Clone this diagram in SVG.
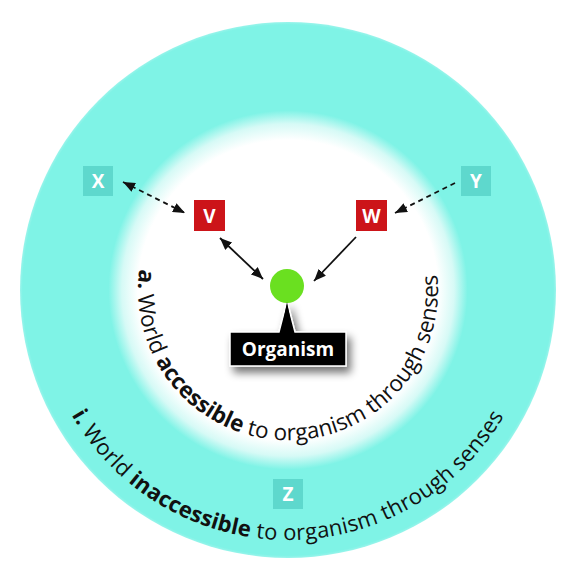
<svg xmlns="http://www.w3.org/2000/svg" width="580" height="570" viewBox="0 0 580 570">
<defs>
<radialGradient id="ring" cx="288" cy="290" r="268" gradientUnits="userSpaceOnUse">
<stop offset="0" stop-color="#ffffff"/>
<stop offset="0.56" stop-color="#ffffff"/>
<stop offset="0.62" stop-color="#d6faf6"/>
<stop offset="0.67" stop-color="#7ff3e6"/>
<stop offset="0.99" stop-color="#7ff3e6"/>
<stop offset="1" stop-color="#9af4eb"/>
</radialGradient>
<marker id="ah" viewBox="0 0 12 10" refX="12" refY="5" markerWidth="12" markerHeight="10" markerUnits="userSpaceOnUse" orient="auto-start-reverse">
<path d="M0,0 L12,5 L0,10 Z" fill="#111"/>
</marker>
<filter id="sh" x="-30%" y="-30%" width="170%" height="190%">
<feGaussianBlur in="SourceAlpha" stdDeviation="4"/>
<feOffset dx="4" dy="6" result="b"/>
<feComponentTransfer><feFuncA type="linear" slope="0.55"/></feComponentTransfer>
<feMerge><feMergeNode/><feMergeNode in="SourceGraphic"/></feMerge>
</filter>
<path id="innerArc" d="M139.5,269.1 A150,150 0 1 0 436.5,269.1"/>
<path id="outerArc" d="M71.5,415 A250,250 0 0 0 504.5,415"/>
</defs>
<style>
.tbox{fill:#5ed8cd}
.rbox{fill:#cc1419}
.lbl{font-family:"Open Sans","Noto Sans",sans-serif;font-weight:bold;font-size:19px;fill:#ffffff;text-anchor:middle}
.arc{font-family:"Open Sans","Noto Sans",sans-serif;fill:#111}
.b{font-weight:bold}
.ln{stroke:#111;stroke-width:1.8;fill:none}
.dash{stroke-dasharray:5,4}
</style>
<rect width="580" height="570" fill="#ffffff"/>
<g id="world">
<circle cx="288" cy="290" r="268" fill="url(#ring)"/>
</g>
<g id="inner-label">
<text class="arc" font-size="22.5"><textPath href="#innerArc" startOffset="0" textLength="508" lengthAdjust="spacing"><tspan class="b">a.</tspan> World <tspan class="b">accessible</tspan> to organism through senses</textPath></text>
</g>
<g id="outer-label">
<text class="arc" font-size="22"><textPath href="#outerArc" startOffset="0" textLength="522" lengthAdjust="spacing"><tspan class="b">i.</tspan> World <tspan class="b">inaccessible</tspan> to organism through senses</textPath></text>
</g>
<g id="connectors">
<line class="ln dash" x1="123" y1="182" x2="185" y2="213" marker-start="url(#ah)" marker-end="url(#ah)"/>
<line class="ln" x1="220" y1="238" x2="263" y2="279" marker-start="url(#ah)" marker-end="url(#ah)"/>
<line class="ln" x1="356" y1="237" x2="314" y2="281" marker-end="url(#ah)"/>
<line class="ln dash" x1="455" y1="183" x2="395" y2="213" marker-end="url(#ah)"/>
</g>
<g id="node-X"><rect class="tbox" x="83" y="166" width="30" height="30"/><text class="lbl" x="98" y="188">X</text></g>
<g id="node-Y"><rect class="tbox" x="461" y="166" width="30" height="30"/><text class="lbl" x="476" y="188">Y</text></g>
<g id="node-Z"><rect class="tbox" x="273" y="479" width="30" height="30"/><text class="lbl" x="288" y="501">Z</text></g>
<g id="node-V"><rect class="rbox" x="194" y="200" width="31" height="31"/><text class="lbl" x="209.5" y="223">V</text></g>
<g id="node-W"><rect class="rbox" x="356" y="200" width="31" height="31"/><text class="lbl" x="371.5" y="223">W</text></g>
<g id="node-organism">
<g filter="url(#sh)">
<path d="M230,332 L279,332 L287,301 L295,332 L346,332 L346,366 L230,366 Z" fill="#000" stroke="#fff" stroke-width="1.5" stroke-linejoin="miter"/>
</g>
<circle cx="287" cy="286" r="17" fill="#6ae020"/>
<path d="M281,333 L287,302 L293,333 Z" fill="#000"/>
<text class="lbl" x="288" y="356">Organism</text>
</g>
</svg>
